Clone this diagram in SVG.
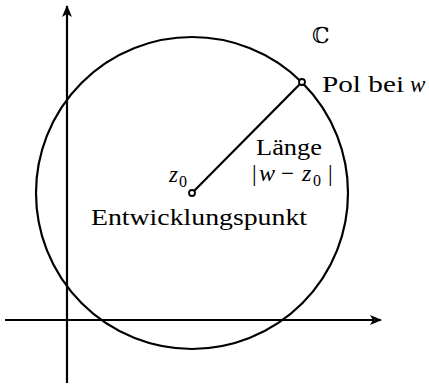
<svg xmlns="http://www.w3.org/2000/svg" width="429" height="385" viewBox="0 0 429 385">
<defs>
<marker id="arr" viewBox="0 0 12 10" refX="11" refY="5" markerWidth="12" markerHeight="10" markerUnits="userSpaceOnUse" orient="auto">
<path d="M0,0 L12,5 L0,10 L3,5 Z" fill="#000"/>
</marker>
<style>
.ln{stroke:#000;stroke-width:2.2;fill:none}
.t{font-family:"Liberation Serif","DejaVu Serif",serif;font-size:23px;fill:#000}
.m{font-style:italic}
.s{font-size:16px}
</style>
</defs>
<rect width="429" height="385" fill="#fff"/>
<g id="connectors">
<line class="ln" x1="5" y1="320" x2="381" y2="320" marker-end="url(#arr)"/>
<line class="ln" x1="67" y1="383" x2="67" y2="6" marker-end="url(#arr)"/>
<circle class="ln" cx="192" cy="193" r="156"/>
<line class="ln" x1="194" y1="191" x2="300" y2="84"/>
</g>
<g id="z0">
<circle cx="192" cy="193" r="3" fill="#fff" stroke="#000" stroke-width="1.8"/>
<text class="t m" x="169" y="182">z</text>
<text class="t s" x="179" y="187">0</text>
<text class="t" x="91" y="225" textLength="216" lengthAdjust="spacingAndGlyphs">Entwicklungspunkt</text>
</g>
<g id="pole">
<circle cx="302" cy="82" r="3" fill="#fff" stroke="#000" stroke-width="1.8"/>
<text class="t" x="322" y="92" textLength="82" lengthAdjust="spacingAndGlyphs">Pol bei</text>
<text class="t m" x="410" y="92">w</text>
</g>
<g id="length">
<text class="t" x="256" y="155" textLength="66" lengthAdjust="spacingAndGlyphs">Länge</text>
<text class="t" x="252" y="181">|</text>
<text class="t m" x="259" y="181" style="font-size:24px">w</text>
<text class="t" x="281" y="181">−</text>
<text class="t m" x="302" y="181" style="font-size:24px">z</text>
<text class="t s" x="313" y="186">0</text>
<text class="t" x="328" y="181">|</text>
</g>
<g id="C">
<text class="t" x="312" y="43" style="font-size:22px">ℂ</text>
</g>
</svg>
